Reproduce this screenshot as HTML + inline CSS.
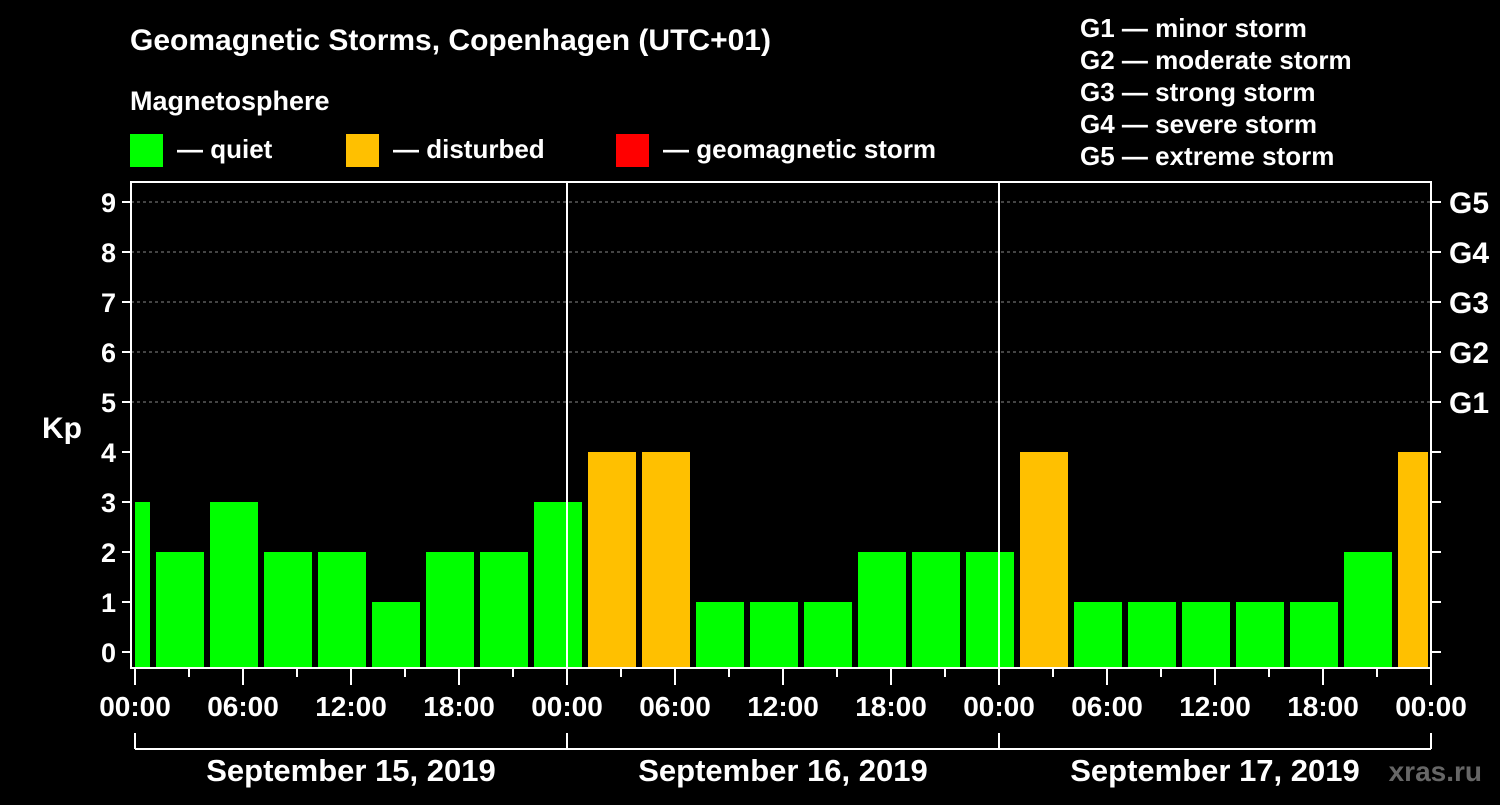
<!DOCTYPE html>
<html><head><meta charset="utf-8"><style>
body{margin:0;background:#000;}
svg text{font-family:"Liberation Sans",sans-serif;font-weight:bold;fill:#fff;}
</style></head><body>
<svg id="c" width="1500" height="800" xmlns="http://www.w3.org/2000/svg">
<rect width="1500" height="800" fill="#000"/>
<text x="130" y="50" font-size="30">Geomagnetic Storms, Copenhagen (UTC+01)</text>
<text x="130" y="110" font-size="27">Magnetosphere</text>
<g><rect x="130" y="134" width="33" height="33" fill="#00ff00"/><text x="177" y="158" font-size="26">— quiet</text></g>
<g><rect x="346" y="134" width="33" height="33" fill="#ffc000"/><text x="393" y="158" font-size="26">— disturbed</text></g>
<g><rect x="616" y="134" width="33" height="33" fill="#ff0000"/><text x="663" y="158" font-size="26">— geomagnetic storm</text></g>
<g font-size="26">
<text x="1080" y="37">G1 — minor storm</text>
<text x="1080" y="69">G2 — moderate storm</text>
<text x="1080" y="101">G3 — strong storm</text>
<text x="1080" y="133">G4 — severe storm</text>
<text x="1080" y="165">G5 — extreme storm</text>
</g>
<text x="42" y="438" font-size="30">Kp</text>
<g id="plot"></g>
</svg>
<script>
const kpValues=[3,2,3,2,2,1,2,2,3,4,4,1,1,1,2,2,2,4,1,1,1,1,1,2,4];
const yTicks=[0,1,2,3,4,5,6,7,8,9];
const gLabels=["G1","G2","G3","G4","G5"];
const xTickLabels=["00:00","06:00","12:00","18:00","00:00","06:00","12:00","18:00","00:00","06:00","12:00","18:00","00:00"];
const dayLabels=["September 15, 2019","September 16, 2019","September 17, 2019"];
const NS="http://www.w3.org/2000/svg";
const plotG=document.getElementById('plot');
const x0=135,pxH=18,plotLeft=131,plotRight=1431,plotTop=182,plotBottom=668;
const X=h=>x0+h*pxH;
const Y=v=>652-50*v;
function mk(t,a){const e=document.createElementNS(NS,t);for(const k in a)e.setAttribute(k,a[k]);plotG.appendChild(e);return e;}
for(let v=5;v<=9;v++){const l=mk('line',{x1:plotLeft,x2:plotRight,y1:Y(v),y2:Y(v),stroke:'#888','stroke-dasharray':'3,3','stroke-width':1});

}
kpValues.forEach((v,i)=>{
 let s,e;
 if(i===0){s=X(0);e=X(1)-3;}
 else{s=X(1+(i-1)*3)+3;e=Math.min(X(1+i*3)-3,X(72)-3);}
 const r=mk('rect',{x:s,y:Y(v),width:e-s,height:667-Y(v),fill:v>=5?'#ff0000':(v>=4?'#ffc000':'#00ff00')});
 
 
});
[24,48].forEach(h=>{const l=mk('line',{x1:X(h),x2:X(h),y1:plotTop,y2:plotBottom,stroke:'#fff','stroke-width':2});

});
const fr=mk('rect',{x:plotLeft,y:plotTop,width:plotRight-plotLeft,height:plotBottom-plotTop,fill:'none',stroke:'#fff','stroke-width':2});


yTicks.forEach(v=>{
 mk('line',{x1:122,x2:plotLeft,y1:Y(v),y2:Y(v),stroke:'#fff','stroke-width':2});
 mk('line',{x1:plotRight,x2:plotRight+10,y1:Y(v),y2:Y(v),stroke:'#fff','stroke-width':2});
 const t=mk('text',{x:116,y:Y(v)+10,'font-size':27,'text-anchor':'end'});t.textContent=v;
 
 
});
gLabels.forEach((s,i)=>{const t=mk('text',{x:1449,y:Y(5+i)+11,'font-size':30});t.textContent=s;

});
for(let h=0;h<=72;h+=3){const maj=h%6===0;mk('line',{x1:X(h),x2:X(h),y1:plotBottom,y2:plotBottom+(maj?17:9),stroke:'#fff','stroke-width':2});}
xTickLabels.forEach((s,i)=>{const t=mk('text',{x:X(i*6),y:716,'font-size':28,'text-anchor':'middle'});t.textContent=s;

});
mk('line',{x1:X(0),x2:X(72),y1:749,y2:749,stroke:'#fff','stroke-width':2});
[0,24,48,72].forEach(h=>mk('line',{x1:X(h),x2:X(h),y1:733,y2:749,stroke:'#fff','stroke-width':2}));
dayLabels.forEach((s,i)=>{const t=mk('text',{x:X(i*24+12),y:781,'font-size':31,'text-anchor':'middle'});t.textContent=s;

});
const w=mk('text',{x:1482,y:781,'font-size':28,'text-anchor':'end',style:'fill:#666'});w.textContent='xras.ru';


</script>
</body></html>
